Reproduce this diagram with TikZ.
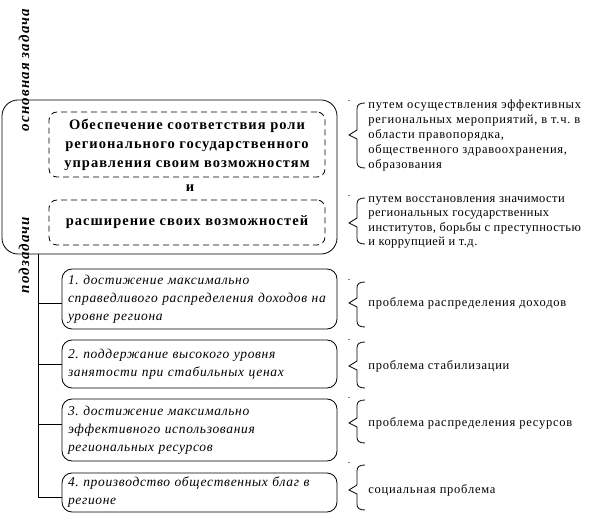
\documentclass[tikz,border=0pt]{standalone}
\usepackage{fontspec}
\setmainfont{Liberation Serif}
\frenchspacing
\newcommand\sidebrace[3]{%
  \fill (349,#1-2.5) circle (0.6);
  \draw (365,#1) .. controls (359,#1) and (357,#1+2) .. (357,#1+6) -- (357,#2-5) -- (349,#2) -- (357,#2+4) -- (357,#3-6) .. controls (357,#3-2) and (359,#3) .. (365,#3);
}
\begin{document}
\begin{tikzpicture}[x=1pt,y=-1pt,line width=0.8pt,
  outerbox/.style={draw,rounded corners=16pt,inner sep=0pt},
  dbox/.style={draw,dash pattern=on 6pt off 4pt,rounded corners=8pt,inner sep=0pt,align=center,
    font=\bfseries\fontsize{14.5}{19}\selectfont\addfontfeature{LetterSpace=7}},
  ibox/.style={draw,rounded corners=10pt,inner xsep=6pt,inner ysep=0pt,text width=263pt,align=left,
    font=\itshape\fontsize{13.5}{18}\selectfont\addfontfeature{LetterSpace=5}},
  rtext/.style={anchor=west,inner sep=0pt,align=left,
    font=\fontsize{12.5}{15}\selectfont\addfontfeature{LetterSpace=6}},
  vlabel/.style={rotate=90,inner sep=0pt,
    font=\bfseries\itshape\fontsize{15}{17}\selectfont\addfontfeature{LetterSpace=7.5}}]
\useasboundingbox (0,0) rectangle (590,521);
% main task frame
\node[outerbox,minimum width=335pt,minimum height=154pt] (outer) at (169.5,177) {};
\node[vlabel] (lab1) at (24,70) {основная задача};
\node[vlabel] (lab2) at (24,255) {подзадачи};
\node[dbox,minimum width=276pt,minimum height=65pt] (d1) at (187,144.5)
  {Обеспечение соответствия роли\\регионального государственного\\управления своим возможностям};
\node[font=\bfseries\fontsize{14.5}{16}\selectfont,inner sep=0pt] (and) at (190,188) {и};
\node[dbox,minimum width=276pt,minimum height=45pt] (d2) at (187,222.5) {расширение своих возможностей};
% subtasks
\node[ibox,minimum height=60pt] (b1) at (199.5,299)
  {1. достижение максимально\\справедливого распределения доходов на\\уровне региона};
\node[ibox,minimum height=48pt] (b2) at (199.5,364)
  {2. поддержание высокого уровня\\занятости при стабильных ценах};
\node[ibox,minimum height=62pt] (b3) at (199.5,430)
  {3. достижение максимально\\эффективного использования\\региональных ресурсов};
\node[ibox,minimum height=39pt] (b4) at (199.5,492.5)
  {4. производство общественных благ в\\регионе};
\coordinate (trunk) at (38,254);
\draw (trunk) |- ([yshift=-4pt]b1.west);
\draw (trunk |- b2.west) -- (b2.west);
\draw (trunk |- b3.west) ++(0,-6) coordinate (j3) -- (j3 -| b3.west);
\draw (trunk) |- ([yshift=-4.5pt]b4.west);
% braces and explanations
\sidebrace{103}{135}{168}
\sidebrace{198}{223}{244}
\sidebrace{282}{303}{327}
\sidebrace{342}{366}{388}
\sidebrace{400}{423}{443}
\sidebrace{465}{490}{510}
\node[rtext] (r1) at (368,135.5) {путем осуществления эффективных\\региональных мероприятий, в т.ч. в\\области правопорядка,\\общественного здравоохранения,\\образования};
\node[rtext,font=\fontsize{12.5}{14.3}\selectfont\addfontfeature{LetterSpace=3.5}] (r2) at (368,222.5) {путем восстановления значимости\\региональных государственных\\институтов, борьбы с преступностью\\и коррупцией и т.д.};
\node[rtext] (r3) at (368,303) {проблема распределения доходов};
\node[rtext] (r4) at (368,366) {проблема стабилизации};
\node[rtext] (r5) at (368,423) {проблема распределения ресурсов};
\node[rtext] (r6) at (368,490) {социальная проблема};
\end{tikzpicture}
\end{document}
